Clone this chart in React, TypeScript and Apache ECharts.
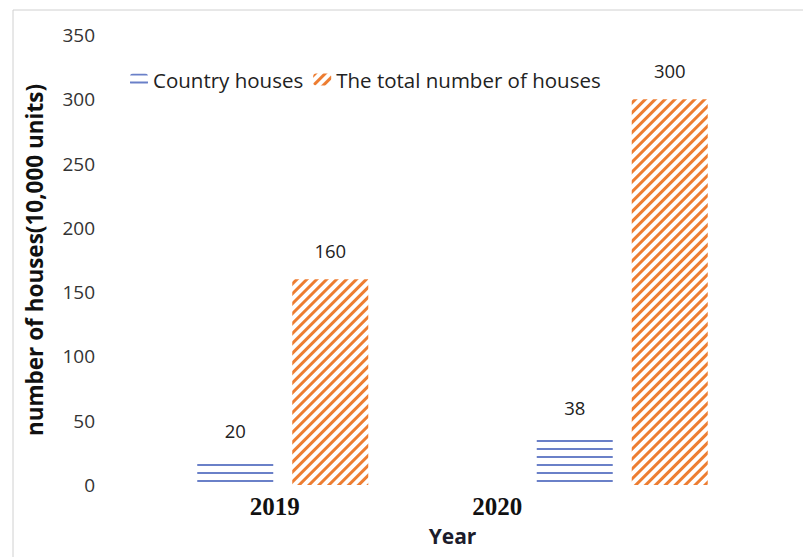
import React, { useEffect, useRef } from "react";
import * as echarts from "echarts";

const categories = ["2019", "2020"];
const countryHouses = [20, 38];
const totalHouses = [160, 300];
const seriesNames = ["Country houses", "The total number of houses"];
const yAxisName = "number of houses(10,000 units)";
const xAxisName = "Year";

export default function App() {
  const ref = useRef<HTMLDivElement>(null);
  useEffect(() => {
    const chart = echarts.init(ref.current!, undefined, { renderer: "svg" });
    const labelFont = "'Open Sans', Lato, sans-serif";
    chart.setOption({
      animation: false,
      backgroundColor: "#ffffff",
      graphic: [
        {
          type: "rect",
          shape: { x: 13, y: 10, width: 800, height: 560 },
          style: { fill: "none", stroke: "#d0d0d0", lineWidth: 1 },
          silent: true,
        },
      ],
      legend: {
        left: 125,
        top: 64,
        itemWidth: 18,
        itemHeight: 12,
        itemGap: 10,
        textStyle: { fontFamily: labelFont, fontSize: 20.5, color: "#222" },
        data: seriesNames,
      },
      grid: { left: 113, right: 11, top: 35, bottom: 72 },
      xAxis: {
        type: "category",
        data: categories,
        name: xAxisName,
        nameLocation: "middle",
        nameGap: 40,
        nameTextStyle: { fontFamily: labelFont, fontWeight: "bold", fontSize: 21, color: "#1c1c2c" },
        axisLine: { show: false },
        axisTick: { show: false },
        axisLabel: {
          margin: 9,
          formatter: (v: string) => (v === "2019" ? "{a|" + v + "}" : "{b|" + v + "}"),
          rich: {
            a: { fontFamily: "'Liberation Serif', serif", fontWeight: "bold", fontSize: 25, color: "#111", padding: [0, 16, 0, 0] },
            b: { fontFamily: "'Liberation Serif', serif", fontWeight: "bold", fontSize: 25, color: "#111", padding: [0, 250, 0, 0] },
          },
        },
      },
      yAxis: {
        type: "value",
        min: 0,
        max: 350,
        interval: 50,
        name: yAxisName,
        nameLocation: "middle",
        nameGap: 67,
        nameTextStyle: { fontFamily: labelFont, fontWeight: "bold", fontSize: 22.5, color: "#111" },
        axisLine: { show: false },
        axisTick: { show: false },
        splitLine: { show: false },
        axisLabel: { margin: 18, fontFamily: labelFont, fontSize: 19, color: "#333" },
      },
      series: [
        {
          name: seriesNames[0],
          type: "bar",
          data: countryHouses,
          barWidth: 76,
          barGap: "25%",
          itemStyle: {
            color: "#ffffff",
            decal: {
              symbol: "rect",
              symbolSize: 1,
              dashArrayX: [1, 0],
              dashArrayY: [1.3, 5.1],
              rotation: 0,
              color: "#6a80c8",
            },
          },
          label: {
            show: true,
            position: "top",
            distance: 19,
            fontFamily: labelFont,
            fontSize: 18.5,
            color: "#222",
          },
        },
        {
          name: seriesNames[1],
          type: "bar",
          data: totalHouses,
          barWidth: 76,
          itemStyle: {
            color: "#ffffff",
            decal: {
              symbol: "rect",
              symbolSize: 1,
              dashArrayX: [1, 0],
              dashArrayY: [3, 3.7],
              rotation: -Math.PI / 4,
              color: "#ed7d31",
            },
          },
          label: {
            show: true,
            position: "top",
            distance: 19,
            fontFamily: labelFont,
            fontSize: 18.5,
            color: "#222",
          },
        },
      ],
    });
    return () => chart.dispose();
  }, []);
  return (
    <div
      ref={ref}
      style={{ position: "fixed", left: 0, top: 0, width: 803, height: 557 }}
    />
  );
}
